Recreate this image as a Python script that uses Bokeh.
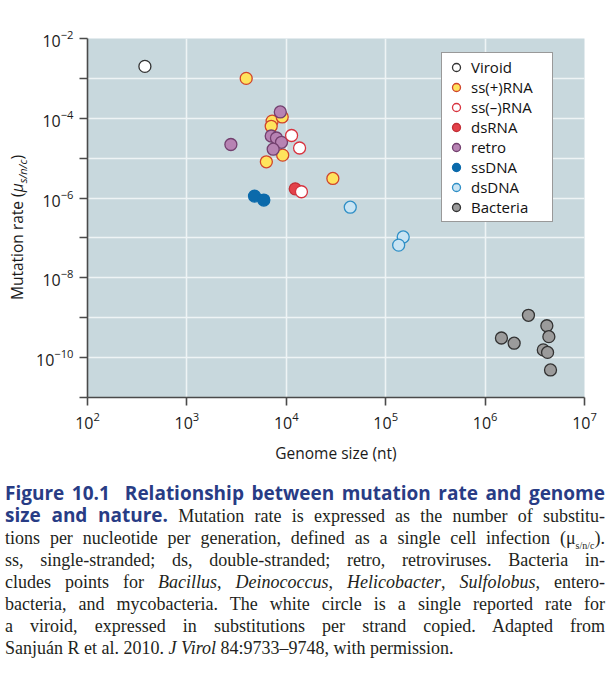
from bokeh.plotting import figure
from bokeh.layouts import column, row
from bokeh.models import Div, Legend, LegendItem, FixedTicker
from bokeh.embed import file_html
from bokeh.resources import INLINE

# ---- data (genome size in nt, mutation rate per s/n/c) ----
viroid_x = [378]
viroid_y = [2.0e-3]
sspos_x = [3950, 7200, 7050, 9100, 9200, 6300, 29400]
sspos_y = [1.0e-3, 8.5e-5, 6.3e-5, 1.08e-4, 1.19e-5, 8.1e-6, 3.1e-6]
ssneg_x = [11300, 13600, 14200]
ssneg_y = [3.7e-5, 1.8e-5, 1.44e-6]
dsrna_x = [12300]
dsrna_y = [1.7e-6]
retro_x = [8700, 2770, 7050, 7960, 8950, 7380]
retro_y = [1.44e-4, 2.2e-5, 3.6e-5, 3.2e-5, 2.5e-5, 1.68e-5]
ssdna_x = [4790, 5940]
ssdna_y = [1.12e-6, 8.9e-7]
dsdna_x = [44000, 150000, 135000]
dsdna_y = [5.9e-7, 1.06e-7, 6.6e-8]
bact_x = [2.73e6, 4.18e6, 4.38e6, 1.46e6, 1.96e6, 3.85e6, 4.25e6, 4.55e6]
bact_y = [1.15e-9, 6.3e-10, 3.35e-10, 3.1e-10, 2.3e-10, 1.56e-10, 1.35e-10, 4.9e-11]

legend_labels = ["Viroid", "ss(+)RNA", "ss(\u2013)RNA", "dsRNA", "retro", "ssDNA", "dsDNA", "Bacteria"]
x_ticks = [1e2, 1e3, 1e4, 1e5, 1e6, 1e7]
y_major = [1e-10, 1e-8, 1e-6, 1e-4, 1e-2]
y_minor = [1e-11, 1e-9, 1e-7, 1e-5, 1e-3]

FONT = "Open Sans"
YLAB_W = 30

p = figure(width=572, height=480, x_axis_type="log", y_axis_type="log",
           x_range=(1e2, 1e7), y_range=(1e-11, 1e-2),
           output_backend="svg", toolbar_location=None,
           min_border_left=57, min_border_right=18, min_border_top=38, min_border_bottom=83)
p.background_fill_color = "#c8d8dd"
p.border_fill_color = "white"
p.outline_line_color = None

p.xaxis.ticker = FixedTicker(ticks=x_ticks)
p.yaxis.ticker = FixedTicker(ticks=y_major, minor_ticks=y_minor)
p.xgrid.ticker = FixedTicker(ticks=x_ticks)
for ax in (p.xaxis[0], p.yaxis[0]):
    ax.axis_line_color = "#4a4a4a"
    ax.axis_line_width = 1.6
    ax.major_tick_line_color = "#4a4a4a"
    ax.major_tick_line_width = 1.6
    ax.major_tick_in = 0
    ax.major_tick_out = 8
    ax.minor_tick_line_color = "#4a4a4a"
    ax.minor_tick_line_width = 1.6
    ax.minor_tick_in = 0
    ax.minor_tick_out = 8
    ax.major_label_text_font = FONT
    ax.major_label_text_font_size = "16px"
    ax.major_label_text_color = "#1a1a1a"
    ax.major_label_standoff = 6
p.xaxis.minor_tick_line_color = None
p.xaxis.axis_label = "Genome size (nt)"
p.xaxis.axis_label_text_font = FONT
p.xaxis.axis_label_text_font_size = "15.5px"
p.xaxis.axis_label_text_font_style = "normal"
p.xaxis.axis_label_text_color = "#1a1a1a"
p.xaxis.axis_label_standoff = 10

p.xgrid.grid_line_color = "#eef4f5"
p.xgrid.grid_line_width = 1.6
p.ygrid.grid_line_color = "#eef4f5"
p.ygrid.grid_line_width = 1.6
p.ygrid.minor_grid_line_color = "#eef4f5"
p.ygrid.minor_grid_line_width = 1.6

SIZE = 12
LW = 1.3
styles = {
    "Viroid": ("white", "#333333"),
    "ss(+)RNA": ("#ffe35c", "#d0442c"),
    "ss(\u2013)RNA": ("white", "#d8333f"),
    "dsRNA": ("#e3424a", "#c22f36"),
    "retro": ("#b783b3", "#73406f"),
    "ssDNA": ("#0b6aab", "#0b6aab"),
    "dsDNA": ("#c9e4f3", "#2f8fc6"),
    "Bacteria": ("#9b9b9b", "#333333"),
}
data = {
    "Viroid": (viroid_x, viroid_y),
    "ss(+)RNA": (sspos_x, sspos_y),
    "ss(\u2013)RNA": (ssneg_x, ssneg_y),
    "dsRNA": (dsrna_x, dsrna_y),
    "retro": (retro_x, retro_y),
    "ssDNA": (ssdna_x, ssdna_y),
    "dsDNA": (dsdna_x, dsdna_y),
    "Bacteria": (bact_x, bact_y),
}
draw_order = ["Viroid", "ss(+)RNA", "dsRNA", "retro", "ss(\u2013)RNA", "ssDNA", "dsDNA", "Bacteria"]
renderers = {}
for name in draw_order:
    xs, ys = data[name]
    fc, lc = styles[name]
    renderers[name] = p.scatter(xs, ys, size=SIZE, fill_color=fc, line_color=lc, line_width=LW)

legend = Legend(items=[LegendItem(label=n, renderers=[renderers[n]]) for n in legend_labels],
                location=(354, 175), margin=0, padding=4, spacing=0,
                glyph_width=20, glyph_height=20, label_standoff=5, label_width=77, label_height=20,
                label_text_font=FONT, label_text_font_size="15px", label_text_color="#111111",
                border_line_color="#333333", border_line_width=1.2,
                background_fill_color="white", background_fill_alpha=1.0)
p.add_layout(legend)

# rotated y-axis label with italic, subscripted symbol
ylab_html = (
    f'<div style="position:relative; width:{YLAB_W}px; height:320px;">'
    '<div style="position:absolute; left:8px; top:300px; transform-origin:0 0; transform:rotate(-90deg); '
    "white-space:nowrap; font-family:'Open Sans'; font-size:15.5px; line-height:18px; color:#1a1a1a;\">"
    'Mutation rate (<i>\u03bc<sub style="font-size:11px; line-height:0;">s/n/c</sub></i>)</div></div>'
)
ylab = Div(text=ylab_html, width=YLAB_W, height=320, margin=0)

TITLE = "color:#283c85; font-family:'Open Sans'; font-weight:700; font-size:19px; line-height:20px;"
J = "text-align:justify; text-align-last:justify;"
lines = [
    f'<span style="{TITLE}">Figure 10.1&nbsp; Relationship between mutation rate and genome</span>',
    f'<span style="{TITLE}">size and nature.</span> Mutation rate is expressed as the number of substitu-',
    'tions per nucleotide per generation, defined as a single cell infection (\u03bc<sub style="font-size:10px; line-height:0;">s/n/c</sub>).',
    'ss, single-stranded; ds, double-stranded; retro, retroviruses. Bacteria in-',
    'cludes points for <i>Bacillus</i>, <i>Deinococcus</i>, <i>Helicobacter</i>, <i>Sulfolobus</i>, entero-',
    'bacteria, and mycobacteria. The white circle is a single reported rate for',
    'a viroid, expressed in substitutions per strand copied. Adapted from',
    'Sanju\u00e1n R et al. 2010. <i>J Virol</i> 84:9733\u20139748, with permission.',
]
body = "".join(f'<div style="{J if i < len(lines) - 1 else "text-align:left;"}">{t}</div>' for i, t in enumerate(lines))
html = ('<div style="font-family:\'Liberation Serif\'; font-size:18px; line-height:22px; color:#231f20; '
        'width:600px; margin-left:5px; margin-top:3px;">' + body + '</div>')
cap = Div(text=html, width=606, margin=0)

layout = column(row(ylab, p, spacing=0), cap, spacing=0)
open("out.html", "w").write(file_html(layout, INLINE))
